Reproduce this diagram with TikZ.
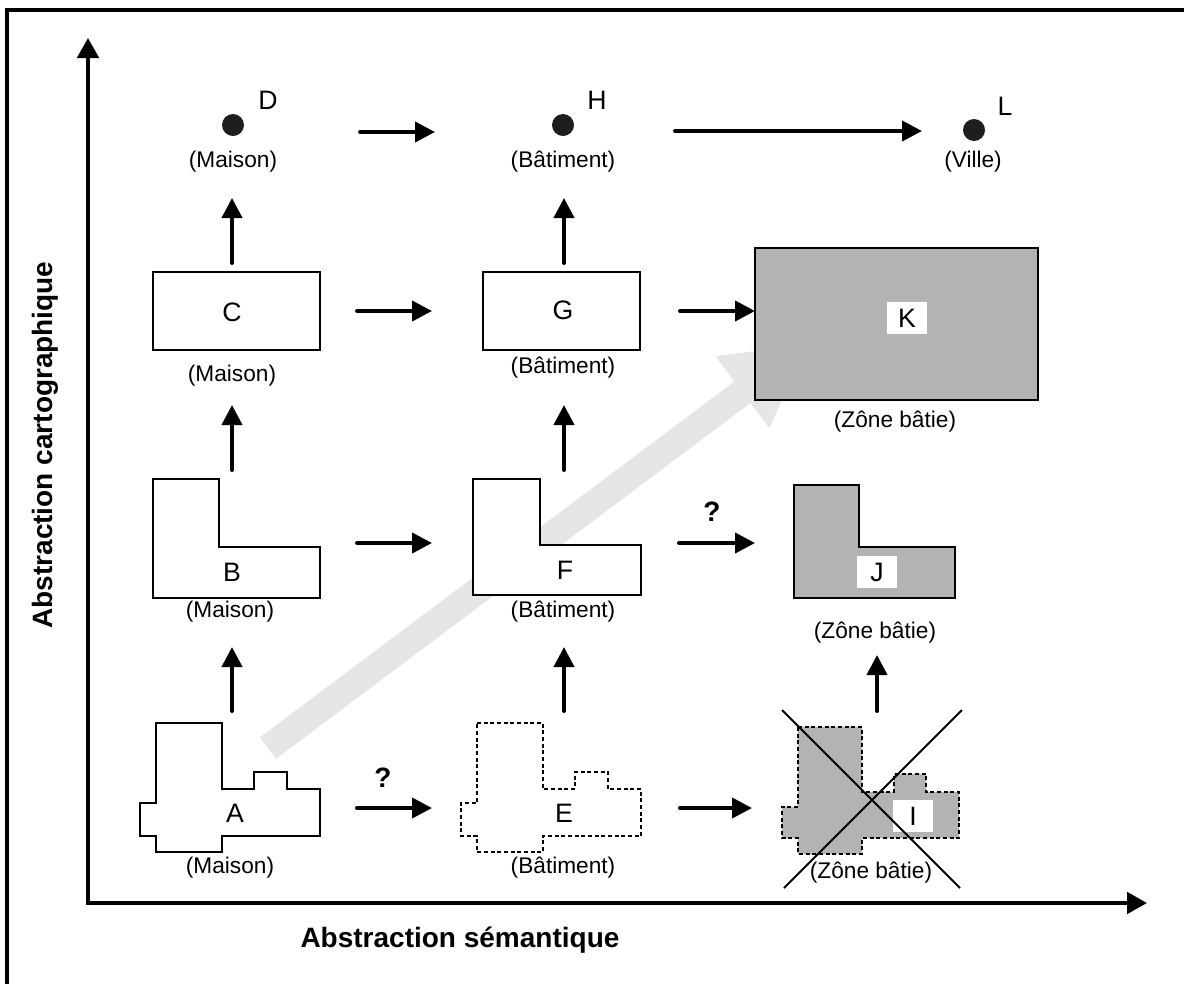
\documentclass[tikz,border=0pt]{standalone}
\usepackage{fontspec}
\setmainfont{Liberation Sans}
\usetikzlibrary{arrows.meta}
\definecolor{zonegray}{HTML}{B3B3B3}
\definecolor{bandgray}{HTML}{E6E6E6}
\definecolor{dotblack}{HTML}{1E1E1E}
\begin{document}
\begin{tikzpicture}[x=0.75pt,y=-0.75pt,
  conn/.style={line width=3pt,line cap=round,-{Triangle[length=15pt,width=15pt]}},
  axisline/.style={line width=3pt,{Triangle[length=15pt,width=16pt]}-{Triangle[length=15pt,width=16pt]}},
  outline/.style={line width=1.2pt,line join=miter},
  dashedline/.style={outline,dash pattern=on 3pt off 2pt},
  lbl/.style={font=\fontsize{17}{20}\selectfont,inner sep=0pt},
  letter/.style={font=\fontsize{20}{23}\selectfont,inner sep=0pt},
  tag/.style={letter,fill=white,minimum width=30pt,minimum height=24pt},
  dot/.style={circle,fill=dotblack,minimum size=16.5pt,inner sep=0pt},
  qmark/.style={font=\bfseries\fontsize{21}{24}\selectfont,inner sep=0pt},
  axislabel/.style={font=\bfseries\fontsize{21}{25}\selectfont,inner sep=0pt}]
\useasboundingbox (0,0) rectangle (1184,983);
\begin{scope}
\clip (0,0) rectangle (1184,983);
\draw[line width=3pt] (7,1000) -- (7,10) -- (1200,10);
\end{scope}

% axes
\coordinate (origin) at (88,903);
\coordinate (ytip) at (88,38);
\coordinate (xtip) at (1147,903);
\draw[axisline] (ytip) -- (origin) -- (xtip);
\node[axislabel] (xlab) at (460,940) {Abstraction sémantique};
\node[axislabel,rotate=90] (ylab) at (45,445) {Abstraction cartographique};

% big light gray band arrow
\fill[bandgray] (259.9,737.2) -- (734.3,381.4) -- (715.4,356.2) -- (806.4,344.2)
  -- (769.4,428.2) -- (750.5,403.0) -- (276.1,758.8) -- cycle;

% row A (bottom)
\draw[outline,fill=white] (156,723) -- (222,723) -- (222,789) -- (254,789) -- (254,772) -- (287,772)
  -- (287,789) -- (320,789) -- (320,836) -- (222,836) -- (222,852) -- (156,852) -- (156,836)
  -- (140,836) -- (140,803) -- (156,803) -- cycle;
\node[letter] (A) at (235,813) {A};
\node[lbl] (Alab) at (230,868) {(Maison)};

\draw[dashedline,fill=white] (477,723) -- (543,723) -- (543,789) -- (575,789) -- (575,772) -- (608,772)
  -- (608,789) -- (641,789) -- (641,836) -- (543,836) -- (543,852) -- (477,852) -- (477,836)
  -- (461,836) -- (461,803) -- (477,803) -- cycle;
\node[letter] (E) at (564,813) {E};
\node[lbl] (Elab) at (563,868) {(Bâtiment)};

\draw[dashedline,fill=zonegray] (798,727) -- (862,727) -- (862,792) -- (894,792) -- (894,774) -- (926,774)
  -- (926,792) -- (959,792) -- (959,838) -- (862,838) -- (862,854) -- (798,854) -- (798,838)
  -- (782,838) -- (782,807) -- (798,807) -- cycle;
\node[tag] (I) at (913,816) {I};
\node[lbl] (Ilab) at (871,873) {(Zône bâtie)};
\coordinate (x1a) at (782,710);
\coordinate (x1b) at (960,888);
\coordinate (x2a) at (962,710);
\coordinate (x2b) at (784,888);
\draw[line width=1.5pt] (x1a) -- (x1b);
\draw[line width=1.5pt] (x2a) -- (x2b);

% row B
\draw[outline,fill=white] (153,479) -- (219,479) -- (219,547) -- (320,547) -- (320,598) -- (153,598) -- cycle;
\node[letter] (B) at (232,572) {B};
\node[lbl] (Blab) at (230,612) {(Maison)};

\draw[outline,fill=white] (473,479) -- (540,479) -- (540,545) -- (641,545) -- (641,595) -- (473,595) -- cycle;
\node[letter] (F) at (565,570) {F};
\node[lbl] (Flab) at (563,612) {(Bâtiment)};

\draw[outline,fill=zonegray] (794,485) -- (859,485) -- (859,547) -- (955,547) -- (955,598) -- (794,598) -- cycle;
\node[tag] (J) at (877,572) {J};
\node[lbl] (Jlab) at (875,633) {(Zône bâtie)};

% row C
\node[outline,draw,fill=white,minimum width=125.25pt,minimum height=58.5pt,inner sep=0pt] (Cbox) at (236.5,311) {};
\node[letter] (C) at (232,312) {C};
\node[lbl] (Clab) at (232,376) {(Maison)};

\node[outline,draw,fill=white,minimum width=117.75pt,minimum height=58.5pt,inner sep=0pt] (Gbox) at (561.5,311) {};
\node[letter] (G) at (563,310) {G};
\node[lbl] (Glab) at (563,368) {(Bâtiment)};

\node[outline,draw,fill=zonegray,minimum width=212.25pt,minimum height=114pt,inner sep=0pt] (Kbox) at (896.5,324) {};
\node[tag] (K) at (907,318) {K};
\node[lbl] (Klab) at (895,422) {(Zône bâtie)};

% top row
\node[dot] (Ddot) at (233,125) {};
\node[letter] (D) at (268,100) {D};
\node[lbl] (Dlab) at (233,162) {(Maison)};
\node[dot] (Hdot) at (563,125) {};
\node[letter] (H) at (597,100) {H};
\node[lbl] (Hlab) at (563,162) {(Bâtiment)};
\node[dot] (Ldot) at (974,130) {};
\node[letter] (L) at (1005,106) {L};
\node[lbl] (Llab) at (973,162) {(Ville)};

% horizontal arrow end points
\coordinate (t1s) at (360,132); \coordinate (t1e) at (435,132);
\coordinate (t2s) at (675,131); \coordinate (t2e) at (922,131);
\coordinate (c1s) at (357,311); \coordinate (c1e) at (432,311);
\coordinate (c2s) at (680,311); \coordinate (c2e) at (755,311);
\coordinate (b1s) at (357,543); \coordinate (b1e) at (432,543);
\coordinate (b2s) at (679,543); \coordinate (b2e) at (755,543);
\coordinate (a1s) at (357,808); \coordinate (a1e) at (432,808);
\coordinate (a2s) at (680,808); \coordinate (a2e) at (752,808);
\draw[conn] (t1s) -- (t1e);
\draw[conn] (t2s) -- (t2e);
\draw[conn] (c1s) -- (c1e);
\draw[conn] (c2s) -- (c2e);
\draw[conn] (b1s) -- (b1e);
\draw[conn] (b2s) -- (b2e);
\draw[conn] (a1s) -- (a1e);
\draw[conn] (a2s) -- (a2e);
\node[qmark] (q1) at (712,512) {?};
\node[qmark] (q2) at (383,778) {?};

% vertical arrow end points
\coordinate (v1s) at (232,711); \coordinate (v1e) at (232,647);
\coordinate (v2s) at (232,470); \coordinate (v2e) at (232,405);
\coordinate (v3s) at (232,263); \coordinate (v3e) at (232,198);
\coordinate (w1s) at (564,711); \coordinate (w1e) at (564,647);
\coordinate (w2s) at (564,470); \coordinate (w2e) at (564,405);
\coordinate (w3s) at (564,263); \coordinate (w3e) at (564,198);
\coordinate (z1s) at (877,711); \coordinate (z1e) at (877,655);
\draw[conn] (v1s) -- (v1e);
\draw[conn] (v2s) -- (v2e);
\draw[conn] (v3s) -- (v3e);
\draw[conn] (w1s) -- (w1e);
\draw[conn] (w2s) -- (w2e);
\draw[conn] (w3s) -- (w3e);
\draw[conn] (z1s) -- (z1e);
\end{tikzpicture}
\end{document}
